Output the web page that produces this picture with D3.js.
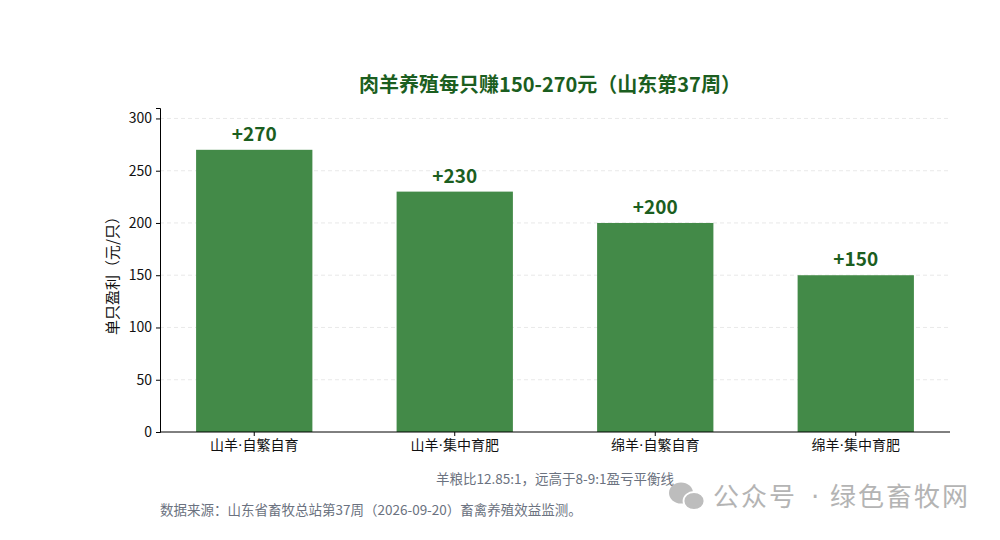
<!DOCTYPE html>
<html lang="zh">
<head>
<meta charset="UTF-8">
<script src="https://d3js.org/d3.v7.min.js"></script>
<style>
    body { margin: 0; background: #fff; font-family: "Noto Sans CJK SC", "Noto Sans", sans-serif; }
</style>
</head>
<body>
<svg id="chart" width="1000" height="540"></svg>
<script>
    const categories = ["山羊·自繁自育", "山羊·集中育肥", "绵羊·自繁自育", "绵羊·集中育肥"];
    const profits = [270, 230, 200, 150];
    const yTicks = [0, 50, 100, 150, 200, 250, 300];

    const width = 1000, height = 540;
    const margin = { top: 108, right: 50, bottom: 108, left: 160 };
    const font = '"Noto Sans CJK SC", "Noto Sans", sans-serif';

    const svg = d3.select("#chart");

    const x = d3.scaleBand()
        .domain(categories)
        .range([margin.left, width - margin.right])
        .paddingInner(0.42)
        .paddingOuter(0.18);

    const y = d3.scaleLinear()
        .domain([0, 310])
        .range([height - margin.bottom, margin.top]);

    // grid
    svg.append("g")
        .selectAll("line")
        .data(yTicks.slice(1))
        .enter().append("line")
        .attr("x1", margin.left)
        .attr("x2", width - margin.right)
        .attr("y1", d => y(d))
        .attr("y2", d => y(d))
        .attr("stroke", "#e3e3e3")
        .attr("stroke-dasharray", "4,3")
        .attr("stroke-width", 0.8);

    // bars
    svg.selectAll("rect.bar")
        .data(categories)
        .enter().append("rect")
        .attr("class", "bar")
        .attr("x", d => x(d))
        .attr("y", (d, i) => y(profits[i]))
        .attr("width", x.bandwidth())
        .attr("height", (d, i) => y(0) - y(profits[i]))
        .attr("fill", "#438a48");

    // value labels
    svg.selectAll("text.val")
        .data(categories)
        .enter().append("text")
        .attr("class", "val")
        .attr("x", d => x(d) + x.bandwidth() / 2)
        .attr("y", (d, i) => y(profits[i]) - 9)
        .attr("text-anchor", "middle")
        .style("font-family", font)
        .style("font-size", "19px")
        .style("font-weight", "bold")
        .attr("fill", "#1b5e20")
        .text((d, i) => "+" + profits[i]);

    // axes
    const xAxis = svg.append("g")
        .attr("transform", `translate(0,${y(0)})`)
        .call(d3.axisBottom(x).tickSizeOuter(0).tickSize(4).tickPadding(4));
    xAxis.select(".domain").attr("d", `M${margin.left},0H${width - margin.right}`);
    xAxis.selectAll("text")
        .style("font-family", font).style("font-size", "14px").attr("fill", "#111")
        .each(function (d) {
            // narrow middle dot, as in the original
            const t = d3.select(this).text("");
            const parts = d.split("·");
            t.append("tspan").text(parts[0]);
            t.append("tspan").style("font-family", "DejaVu Sans").text("·");
            t.append("tspan").text(parts[1]);
        });

    const yAxis = svg.append("g")
        .attr("transform", `translate(${margin.left},0)`)
        .call(d3.axisLeft(y).tickValues(yTicks).tickSizeOuter(0).tickSize(4).tickPadding(4));
    yAxis.selectAll("text").style("font-family", font).style("font-size", "14px").attr("fill", "#111");

    // axis title
    svg.append("text")
        .attr("transform", `translate(118,${(y(0) + y(310)) / 2 + 2}) rotate(-90)`)
        .attr("text-anchor", "middle")
        .style("font-family", font)
        .style("font-size", "15px")
        .attr("fill", "#111")
        .text("单只盈利（元/只）");

    // title
    svg.append("text")
        .attr("x", 550)
        .attr("y", 92)
        .attr("text-anchor", "middle")
        .style("font-family", font)
        .style("font-size", "20px")
        .style("font-weight", "bold")
        .attr("fill", "#1b5e20")
        .text("肉羊养殖每只赚150-270元（山东第37周）");

    // notes
    svg.append("text")
        .attr("x", 555)
        .attr("y", 484)
        .attr("text-anchor", "middle")
        .style("font-family", font)
        .style("font-size", "13.5px")
        .attr("fill", "#6b7280")
        .text("羊粮比12.85:1，远高于8-9:1盈亏平衡线");

    svg.append("text")
        .attr("x", margin.left)
        .attr("y", 515)
        .style("font-family", font)
        .style("font-size", "13.5px")
        .attr("fill", "#6b7280")
        .text("数据来源：山东省畜牧总站第37周（2026-09-20）畜禽养殖效益监测。");

    // watermark
    const wm = svg.append("g");
    wm.append("ellipse").attr("cx", 681).attr("cy", 493).attr("rx", 12).attr("ry", 10.5).attr("fill", "#bdbdbd");
    wm.append("ellipse").attr("cx", 694).attr("cy", 501).attr("rx", 10.5).attr("ry", 9)
        .attr("fill", "#bdbdbd").attr("stroke", "#fff").attr("stroke-width", 1.8);
    const wmText = (x, s, f) => wm.append("text")
        .attr("x", x)
        .attr("y", 506)
        .style("font-family", f)
        .style("font-size", "26px")
        .style("letter-spacing", "2px")
        .attr("fill", "#b4b4b4")
        .text(s);
    wmText(713, "公众号", font);
    wmText(811, "·", "DejaVu Sans");
    wmText(830, "绿色畜牧网", font);
</script>
</body>
</html>
